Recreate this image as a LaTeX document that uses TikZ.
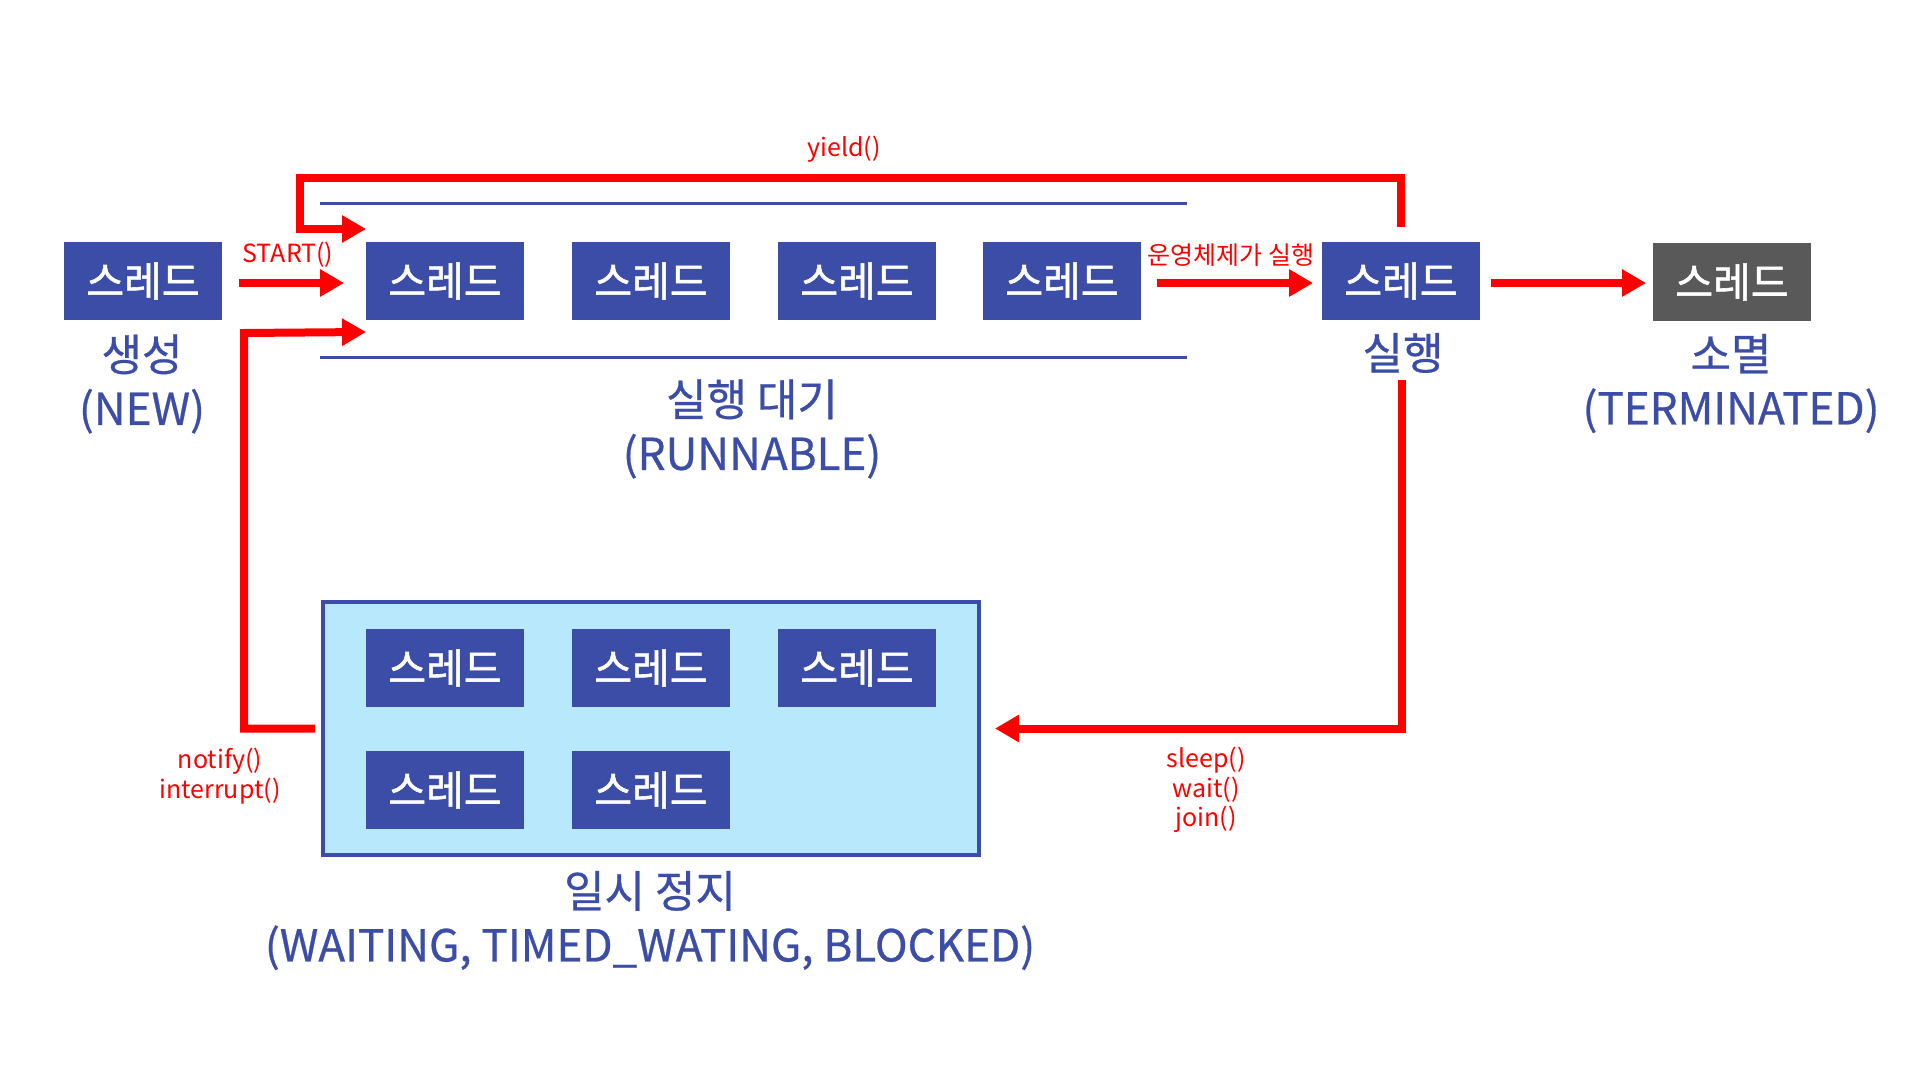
\documentclass[tikz,border=0pt]{standalone}
\usepackage{fontspec}
\setmainfont{Noto Sans CJK KR}
\newfontfamily\boxfont[FakeBold=1.4]{Noto Sans CJK KR}
\newfontfamily\lblfont[FakeBold=0.6]{Noto Sans CJK KR}
\usetikzlibrary{arrows.meta,calc}
\definecolor{tblue}{HTML}{3C4DA8}
\definecolor{tgray}{HTML}{595959}
\definecolor{tlight}{HTML}{B8E8FC}
\definecolor{tred}{HTML}{FF0000}
\begin{document}
\begin{tikzpicture}[x=0.5pt,y=-0.5pt,
  thread/.style={rectangle, fill=tblue, text=white, minimum width=79pt, minimum height=39pt, inner sep=0pt, outer sep=0pt, font=\boxfont\fontsize{20.5}{24}\selectfont},
  lbl/.style={text=tblue, align=center, font=\lblfont\fontsize{22}{27}\selectfont, inner sep=0pt},
  rlbl/.style={text=tred, align=center, font=\fontsize{12.5}{15}\selectfont, inner sep=0pt},
  redarrow/.style={draw=tred, line width=4pt, -{Triangle[length=12pt,width=13pt]}},
  blueline/.style={draw=tblue, line width=1.5pt}]
\path[use as bounding box, fill=white] (0,0) rectangle (1920,1080);

% waiting container
\node[rectangle, draw=tblue, line width=2pt, fill=tlight, minimum width=328pt, minimum height=126.5pt, inner sep=0pt, outer sep=0pt] (wait) at (651,728.5) {};

% threads
\node[thread] (new) at (143,281) {스레드};
\node[thread] (r1) at (445,281) {스레드};
\node[thread] (r2) at (651,281) {스레드};
\node[thread] (r3) at (857,281) {스레드};
\node[thread] (r4) at (1062,281) {스레드};
\node[thread] (run) at (1401,281) {스레드};
\node[thread, fill=tgray] (term) at (1732,282) {스레드};
\node[thread] (w1) at (445,668) {스레드};
\node[thread] (w2) at (651,668) {스레드};
\node[thread] (w3) at (857,668) {스레드};
\node[thread] (w4) at (445,790) {스레드};
\node[thread] (w5) at (651,790) {스레드};

% runnable lines
\coordinate (lt1) at (320,204);
\coordinate (lt2) at (1187,204);
\coordinate (lb1) at (320,358);
\coordinate (lb2) at (1187,358);
\draw[blueline] (lt1) -- (lt2);
\draw[blueline] (lb1) -- (lb2);

% labels
\node[lbl] (newlbl) at (142,384) {생성\\(NEW)};
\node[lbl] (runlbl) at (1403,353) {실행};
\node[lbl] (rblbl) at (752,429) {실행 대기\\(RUNNABLE)};
\node[lbl] (termlbl) at (1731,383.5) {소멸\\(TERMINATED)};
\node[lbl] (waitlbl) at (650,920.5) {일시 정지\\(WAITING, TIMED\_WATING, BLOCKED)};

% arrows
\draw[redarrow, shorten <=8.5pt, shorten >=11pt] (new.east |- 0,283) -- (r1.west |- 0,283);
\node[rlbl] (startlbl) at (288,255) {START()};

\draw[redarrow, shorten <=8pt, shorten >=4.5pt] (r4.east |- 0,283) -- (run.west |- 0,283);
\node[rlbl] (oslbl) at (1231,255) {운영체제가 실행};

\draw[redarrow, shorten <=5.5pt, shorten >=3.5pt] (run.east |- 0,283) -- (term.west |- 0,283);

\coordinate (ytop) at (300,178);
\draw[redarrow] ([yshift=7.5pt]run.north) |- (ytop) |- ([yshift=6.5pt]r1.north west);
\node[rlbl] (yieldlbl) at (844,149) {yield()};

\coordinate (sl) at (1402,380);
\draw[redarrow] (sl) |- ([xshift=8pt]wait.east);
\node[rlbl, font=\fontsize{12.5}{14.75}\selectfont] (sleeplbl) at (1206,790) {sleep()\\wait()\\join()};

\coordinate (nl) at (244,333);
\draw[redarrow] ([xshift=-4pt]wait.west) -| (nl) -- ([yshift=-6pt]r1.south west);
\node[rlbl] (notifylbl) at (220,776) {notify()\\interrupt()};
\end{tikzpicture}
\end{document}
